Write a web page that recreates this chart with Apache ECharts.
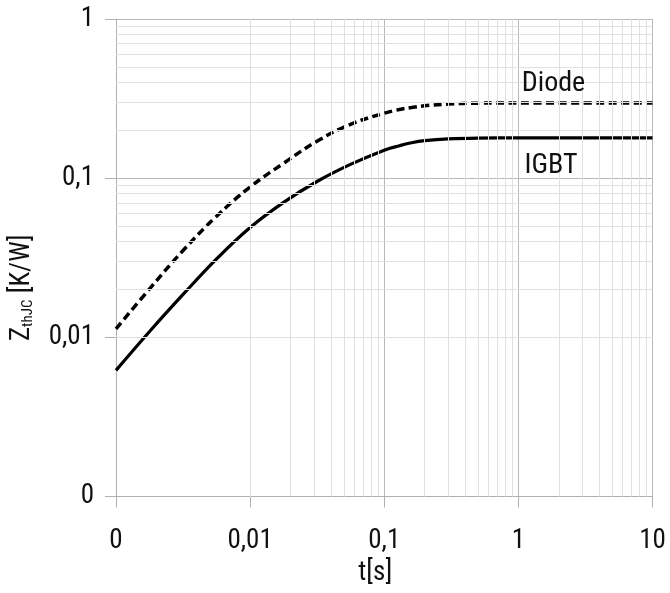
<!DOCTYPE html>
<html>
<head>
<meta charset="utf-8">
<script src="https://cdn.jsdelivr.net/npm/echarts@6/dist/echarts.min.js"></script>
<style>
html,body{margin:0;padding:0;background:#fff;}
#chart{width:670px;height:593px;}
</style>
</head>
<body>
<div id="chart"></div>
<script>
// ---- data ----
var tValues = [0.001, 0.0018, 0.0032, 0.0056, 0.01, 0.018, 0.032, 0.056, 0.1, 0.13, 0.16, 0.2, 0.3, 0.5, 1, 10];
var igbtZ   = [0.0062, 0.0110, 0.0188, 0.031, 0.049, 0.071, 0.096, 0.122, 0.150, 0.160, 0.167, 0.172, 0.1765, 0.1785, 0.179, 0.179];
var diodeZ  = [0.0113, 0.0204, 0.0355, 0.0575, 0.088, 0.125, 0.172, 0.218, 0.256, 0.270, 0.278, 0.285, 0.292, 0.296, 0.297, 0.297];

var xTickValues = [0.001, 0.01, 0.1, 1, 10];
var xTickLabels = ['0', '0,01', '0,1', '1', '10'];
var yTickValues = [0.001, 0.01, 0.1, 1];
var yTickLabels = ['0', '0,01', '0,1', '1'];

var seriesNames = ['Diode', 'IGBT'];
var seriesLabelPos = [[1.06, 0.392], [1.11, 0.119]];

var minorMultipliers = [2, 3, 4, 5, 6, 7, 8, 9];
var xDecades = [0.001, 0.01, 0.1, 1];
var yDecades = [0.001, 0.01, 0.1];

// ---- font selection: prefer a narrow face if one is installed ----
function fontExists(name) {
  var c = document.createElement('canvas').getContext('2d');
  var s = '0,01 Diode IGBT [K/W]';
  c.font = '40px monospace'; var w1 = c.measureText(s).width;
  c.font = '40px "' + name + '", monospace'; var w2 = c.measureText(s).width;
  c.font = '40px serif'; var w3 = c.measureText(s).width;
  c.font = '40px "' + name + '", serif'; var w4 = c.measureText(s).width;
  return Math.abs(w1 - w2) > 0.5 || Math.abs(w3 - w4) > 0.5;
}
var narrowCandidates = ['Liberation Sans Narrow', 'Arial Narrow', 'Roboto Condensed', 'Open Sans Condensed', 'Noto Sans Condensed'];
var FONT = "'Liberation Sans', Arial, sans-serif";
var FS = 25;
for (var i = 0; i < narrowCandidates.length; i++) {
  if (fontExists(narrowCandidates[i])) { FONT = "'" + narrowCandidates[i] + "', 'Liberation Sans', sans-serif"; FS = 27; break; }
}

// ---- helpers ----
function pairs(xs, ys) { return xs.map(function (x, i) { return [x, ys[i]]; }); }
function lookup(vals, labels) {
  return function (v) {
    for (var i = 0; i < vals.length; i++) {
      if (Math.abs(Math.log10(v) - Math.log10(vals[i])) < 1e-6) return labels[i];
    }
    return '';
  };
}
var minorX = [], minorY = [];
xDecades.forEach(function (d) { minorMultipliers.forEach(function (m) { minorX.push({ xAxis: d * m }); }); });
yDecades.forEach(function (d) { minorMultipliers.forEach(function (m) { minorY.push({ yAxis: d * m }); }); });

var chart = echarts.init(document.getElementById('chart'), null, { renderer: 'canvas' });
chart.setOption({
  animation: false,
  backgroundColor: '#fff',
  textStyle: { fontFamily: FONT },
  grid: { left: 116, right: 17.5, top: 19, bottom: 96.5, containLabel: false },
  xAxis: {
    type: 'log', logBase: 10, min: 0.001, max: 10,
    name: 't[s]', nameLocation: 'middle', nameGap: 63,
    nameTextStyle: { fontFamily: FONT, fontSize: FS, color: '#111', padding: [0, 18, 0, 0] },
    axisLine: { show: true, lineStyle: { color: '#b0b0b0', width: 1 } },
    axisTick: { show: true, length: 11, lineStyle: { color: '#b0b0b0' } },
    axisLabel: { margin: 31, fontFamily: FONT, fontSize: FS, color: '#111', formatter: lookup(xTickValues, xTickLabels) },
    splitLine: { show: true, lineStyle: { color: '#b8b8b8', width: 1 } }
  },
  yAxis: {
    type: 'log', logBase: 10, min: 0.001, max: 1,
    name: 'Z{sub|thJC} [K/W]', nameLocation: 'middle', nameGap: 80,
    nameTextStyle: {
      fontFamily: FONT, fontSize: FS, color: '#111', padding: [0, 60, 0, 0],
      rich: { sub: { fontFamily: FONT, fontSize: 15, color: '#111', verticalAlign: 'bottom', padding: [12, 0, 0, 0] } }
    },
    axisLine: { show: true, lineStyle: { color: '#b0b0b0', width: 1 } },
    axisTick: { show: true, length: 11, lineStyle: { color: '#b0b0b0' } },
    axisLabel: { margin: 22, fontFamily: FONT, fontSize: FS, color: '#111', formatter: lookup(yTickValues, yTickLabels) },
    splitLine: { show: true, lineStyle: { color: '#b8b8b8', width: 1 } }
  },
  series: [
    {
      type: 'line', name: 'minor', data: [[0.001, 0.001]], showSymbol: false, silent: true, z: 1,
      lineStyle: { opacity: 0 },
      markLine: {
        silent: true, symbol: ['none', 'none'], animation: false,
        label: { show: false },
        lineStyle: { color: '#e0e0e0', width: 1, type: 'solid' },
        emphasis: { disabled: true },
        data: minorX.concat(minorY)
      }
    },
    {
      type: 'line', name: seriesNames[0], data: pairs(tValues, diodeZ), smooth: 0.4,
      showSymbol: false, symbol: 'none', z: 3,
      lineStyle: { color: '#000', width: 3.5, type: [8, 4.5] },
      markPoint: {
        symbol: 'circle', symbolSize: 0, silent: true,
        label: { show: true, position: 'right', distance: 0, formatter: seriesNames[0], fontFamily: FONT, fontSize: FS + 1, color: '#111' },
        data: [{ coord: seriesLabelPos[0] }]
      }
    },
    {
      type: 'line', name: seriesNames[1], data: pairs(tValues, igbtZ), smooth: 0.4,
      showSymbol: false, symbol: 'none', z: 3,
      lineStyle: { color: '#000', width: 3.2, type: 'solid' },
      markPoint: {
        symbol: 'circle', symbolSize: 0, silent: true,
        label: { show: true, position: 'right', distance: 0, formatter: seriesNames[1], fontFamily: FONT, fontSize: FS + 1, color: '#111' },
        data: [{ coord: seriesLabelPos[1] }]
      }
    }
  ]
});
</script>
</body>
</html>
